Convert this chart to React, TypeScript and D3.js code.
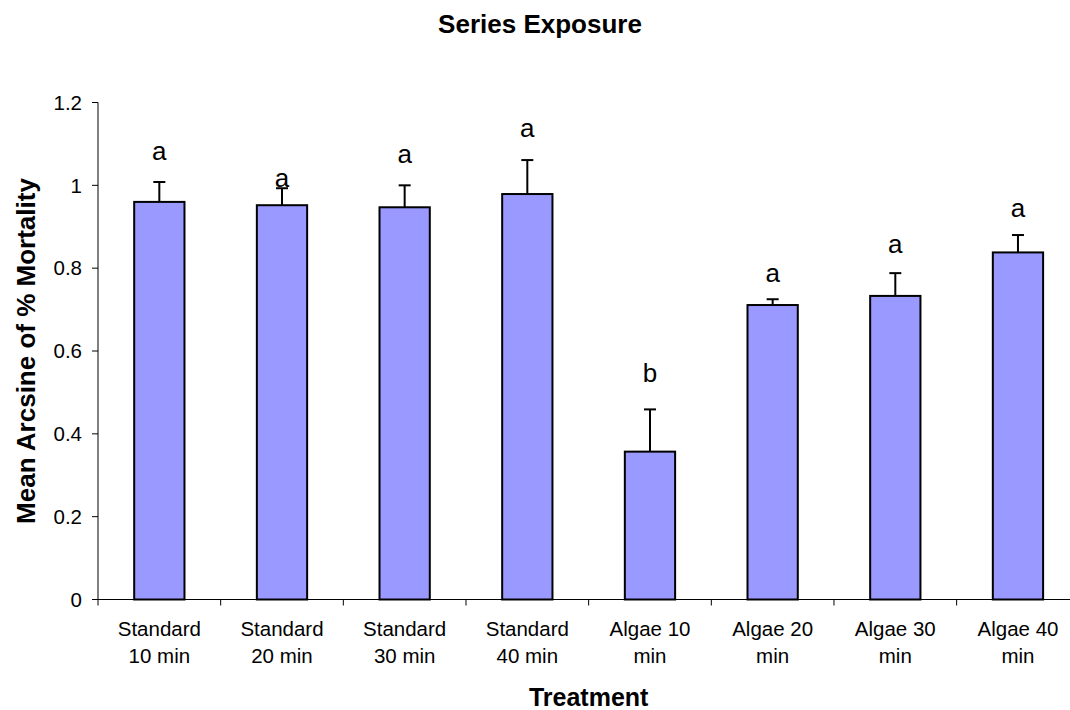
import React from "react";
import * as d3 from "d3";

const categories = [
  ["Standard", "10 min"],
  ["Standard", "20 min"],
  ["Standard", "30 min"],
  ["Standard", "40 min"],
  ["Algae 10", "min"],
  ["Algae 20", "min"],
  ["Algae 30", "min"],
  ["Algae 40", "min"],
];
const means = [0.96, 0.952, 0.947, 0.979, 0.357, 0.711, 0.733, 0.838];
const errors = [0.048, 0.041, 0.053, 0.082, 0.102, 0.014, 0.055, 0.042];
const letters = ["a", "a", "a", "a", "b", "a", "a", "a"];
const letterY = [1.061, 0.997, 1.054, 1.117, 0.525, 0.767, 0.837, 0.924];
const yTicks = [0, 0.2, 0.4, 0.6, 0.8, 1, 1.2];

const W = 1070;
const H = 710;
const left = 98;
const right = 1079.3;
const top = 102.5;
const bottom = 599.5;
const FONT = "Arial, 'Liberation Sans', Helvetica, sans-serif";

export default function App() {
  const x = d3
    .scaleBand<number>()
    .domain(d3.range(categories.length))
    .range([left, right])
    .paddingInner(0)
    .paddingOuter(0);
  const y = d3.scaleLinear().domain([0, 1.2]).range([bottom, top]);
  const bw = x.bandwidth() * 0.41;
  const capHalf = 6;

  return (
    <svg
      width={W}
      height={H}
      style={{ position: "absolute", left: 0, top: 0, background: "#fff" }}
      fontFamily={FONT}
    >
      <rect x={0} y={0} width={W} height={H} fill="#fff" />
      <text x={540} y={32.5} textAnchor="middle" fontSize={26} fontWeight="bold">
        Series Exposure
      </text>

      {/* bars */}
      {means.map((m, i) => {
        const cx = (x(i) as number) + x.bandwidth() / 2;
        return (
          <g key={i}>
            <line
              x1={cx}
              x2={cx}
              y1={y(m)}
              y2={y(m + errors[i])}
              stroke="#000"
              strokeWidth={2}
            />
            <line
              x1={cx - capHalf}
              x2={cx + capHalf}
              y1={y(m + errors[i])}
              y2={y(m + errors[i])}
              stroke="#000"
              strokeWidth={2}
            />
            <rect
              x={cx - bw / 2}
              y={y(m)}
              width={bw}
              height={y(0) - y(m)}
              fill="#9999FF"
              stroke="#000"
              strokeWidth={2}
            />
            <text x={cx} y={y(letterY[i])} textAnchor="middle" fontSize={26}>
              {letters[i]}
            </text>
          </g>
        );
      })}

      {/* y axis */}
      <line x1={left} x2={left} y1={top} y2={bottom} stroke="#000" strokeWidth={1} />
      {yTicks.map((t) => (
        <g key={t}>
          <line x1={left - 6} x2={left} y1={y(t)} y2={y(t)} stroke="#000" strokeWidth={1} />
          <text x={82} y={y(t)} dy="0.35em" textAnchor="end" fontSize={20.5}>
            {String(t)}
          </text>
        </g>
      ))}

      {/* x axis */}
      <line x1={left} x2={right} y1={bottom} y2={bottom} stroke="#000" strokeWidth={1} />
      {d3.range(categories.length + 1).map((i) => {
        const tx = i < categories.length ? (x(i) as number) : right;
        return (
          <line key={i} x1={tx} x2={tx} y1={bottom} y2={bottom + 6} stroke="#000" strokeWidth={1} />
        );
      })}
      {categories.map((c, i) => {
        const cx = (x(i) as number) + x.bandwidth() / 2;
        return (
          <text key={i} x={cx} textAnchor="middle" fontSize={20.5}>
            <tspan x={cx} y={636}>{c[0]}</tspan>
            <tspan x={cx} y={662.5}>{c[1]}</tspan>
          </text>
        );
      })}

      <text x={(left + right) / 2} y={706} textAnchor="middle" fontSize={25} fontWeight="bold">
        Treatment
      </text>
      <text
        transform={`translate(35, ${(top + bottom) / 2}) rotate(-90)`}
        textAnchor="middle"
        fontSize={26}
        fontWeight="bold"
      >
        Mean Arcsine of % Mortality
      </text>
    </svg>
  );
}
